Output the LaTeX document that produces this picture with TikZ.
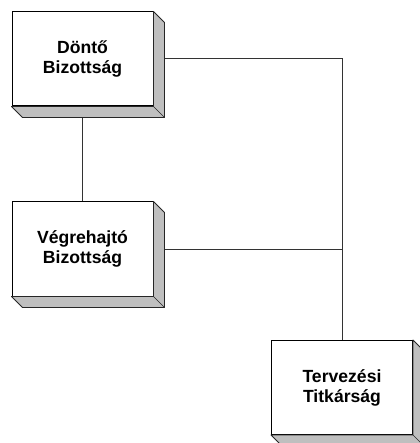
\documentclass[tikz,border=0pt]{standalone}
\usepackage{fontspec}
\setmainfont{Liberation Sans}
\usetikzlibrary{backgrounds}
\tikzset{
  box/.style={draw=black, line width=1pt, fill=white, minimum width=141pt, minimum height=94pt,
    inner sep=0pt, align=center, font=\bfseries\fontsize{17.6}{20}\selectfont},
  depthface/.style={fill=black!25, draw=black!85, line width=0.9pt, line join=round},
  conn/.style={draw=black!80, line width=1pt}
}
\begin{document}
\begin{tikzpicture}[x=1pt,y=-1pt]
\useasboundingbox (0,0) rectangle (419,443);
\node[box] (d) at (82.5,59) {Döntő\\Bizottság};
\node[box] (v) at (82.5,249) {Végrehajtó\\Bizottság};
\node[box] (t) at (342,387.5) {Tervezési\\Titkárság};
\foreach \n in {d,v,t}{
  \filldraw[depthface] (\n.north east) -- ++(11,11) -- ([shift={(11,11)}]\n.south east)
    -- ([shift={(11,11)}]\n.south west) -- (\n.south west) -- (\n.south east) -- cycle;
  \draw[black!85, line width=0.6pt] (\n.south east) -- ++(11,11);
}
\begin{scope}[on background layer]
\draw[conn] (d.east) -| (t.north);
\draw[conn] (v.east) -- (v.east -| t.north);
\draw[conn] (d.south) -- (v.north);
\end{scope}
\end{tikzpicture}
\end{document}
